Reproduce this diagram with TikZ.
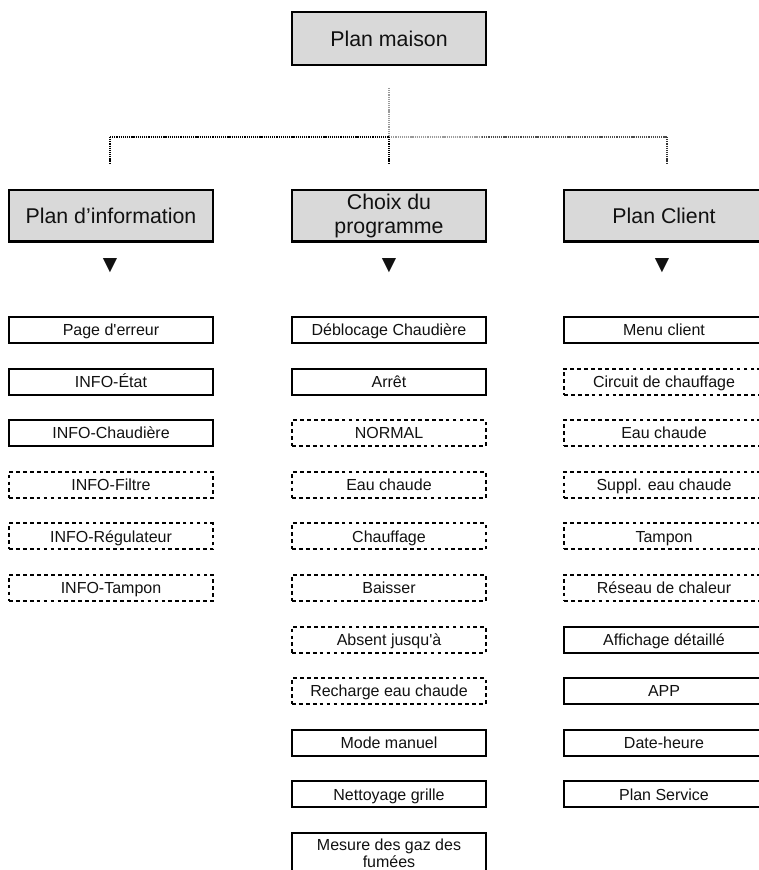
\documentclass[tikz,border=0pt]{standalone}
\usepackage{fontspec}
\setmainfont{Liberation Sans}
\newfontfamily\symfont{DejaVu Sans}
\newcommand\sq{\XeTeXglyph\XeTeXcharglyph"27\relax}
\definecolor{boxgray}{HTML}{D9D9D9}
\definecolor{ink}{HTML}{111111}
\definecolor{lightdot}{HTML}{9A9A9A}
\begin{document}
\begin{tikzpicture}[x=0.75pt,y=-0.75pt,
  lvl/.style={draw=black, fill=boxgray, line width=1.6pt, inner sep=0pt,
    minimum height=38.6pt, font=\fontsize{16}{18}\selectfont, align=center, text=ink,
    text height=11.5pt, text depth=0pt},
  itembox/.style={draw=black, line width=1.5pt, inner sep=0pt, minimum height=19.5pt,
    font=\fontsize{12}{13}\selectfont, align=center, text=ink,
    text height=8.6pt, text depth=0pt},
  multiline/.style={text height={}, text depth={}},
  dashbox/.style={itembox, dash pattern=on 2.8pt off 2.4pt},
  colL/.style={minimum width=153pt},
  colM/.style={minimum width=145.5pt},
  colR/.style={minimum width=150pt},
  tri/.style={font=\symfont\fontsize{14}{14}\selectfont, inner sep=0pt, text=ink},
  conn/.style={line width=1.5pt, dash pattern=on 0.9pt off 0.7pt}
]
\useasboundingbox (0,0) rectangle (759,870);

% top
\node[lvl, colM, minimum height=39.75pt] (root) at (389,38.5) {Plan maison};

% connectors
\coordinate (top) at (389,88);
\coordinate (hub) at (389,137);
\coordinate (hl) at (110,137);
\coordinate (hr) at (667,137);
\coordinate (hrm) at (482,137);
\coordinate (dl) at (110,164);
\coordinate (dm) at (389,164);
\coordinate (dr) at (667,164);
\draw[conn, lightdot] (top) -- (hub);
\draw[conn, black] (hl) -- (hub);
\draw[conn, lightdot] (hub) -- (hrm);
\draw[conn, black!70] (hrm) -- (hr);
\draw[conn, black] (hub) -- (dm);
\draw[conn, black] (hl) -- (dl);
\draw[conn, black!80] (hr) -- (dr);

% level 2
\node[lvl, colL] (info) at (111,215.75) {Plan d’information};
\node[lvl, colM, multiline] (prog) at (389,215.75) {Choix du\\programme};
\node[lvl, colR] (client) at (664,215.75) {Plan Client};

\node[tri] (t1) at (110,266) {▼};
\node[tri] (t2) at (389,266) {▼};
\node[tri] (t3) at (662,266) {▼};

% left column
\node[itembox, colL] (l1) at (111,330) {Page d\sq erreur};
\node[itembox, colL] (l2) at (111,381.6) {INFO-État};
\node[itembox, colL] (l3) at (111,433.2) {INFO-Chaudière};
\node[dashbox, colL] (l4) at (111,484.8) {INFO-Filtre};
\node[dashbox, colL] (l5) at (111,536.4) {INFO-Régulateur};
\node[dashbox, colL] (l6) at (111,588) {INFO-Tampon};

% middle column
\node[itembox, colM] (m1) at (389,330) {Déblocage Chaudière};
\node[itembox, colM] (m2) at (389,381.6) {Arrêt};
\node[dashbox, colM] (m3) at (389,433.2) {NORMAL};
\node[dashbox, colM] (m4) at (389,484.8) {Eau chaude};
\node[dashbox, colM] (m5) at (389,536.4) {Chauffage};
\node[dashbox, colM] (m6) at (389,588) {Baisser};
\node[dashbox, colM] (m7) at (389,639.6) {Absent jusqu\sq à};
\node[dashbox, colM] (m8) at (389,691.2) {Recharge eau chaude};
\node[itembox, colM] (m9) at (389,742.8) {Mode manuel};
\node[itembox, colM] (m10) at (389,794.4) {Nettoyage grille};
\node[itembox, colM, multiline, minimum height=30.75pt] (m11) at (389,853.5) {Mesure des gaz des\\fumées};

% right column
\node[itembox, colR] (r1) at (664,330) {Menu client};
\node[dashbox, colR] (r2) at (664,381.6) {Circuit de chauffage};
\node[dashbox, colR] (r3) at (664,433.2) {Eau chaude};
\node[dashbox, colR] (r4) at (664,484.8) {Suppl. eau chaude};
\node[dashbox, colR] (r5) at (664,536.4) {Tampon};
\node[dashbox, colR] (r6) at (664,588) {Réseau de chaleur};
\node[itembox, colR] (r7) at (664,639.6) {Affichage détaillé};
\node[itembox, colR] (r8) at (664,691.2) {APP};
\node[itembox, colR] (r9) at (664,742.8) {Date-heure};
\node[itembox, colR] (r10) at (664,794.4) {Plan Service};
\end{tikzpicture}
\end{document}
